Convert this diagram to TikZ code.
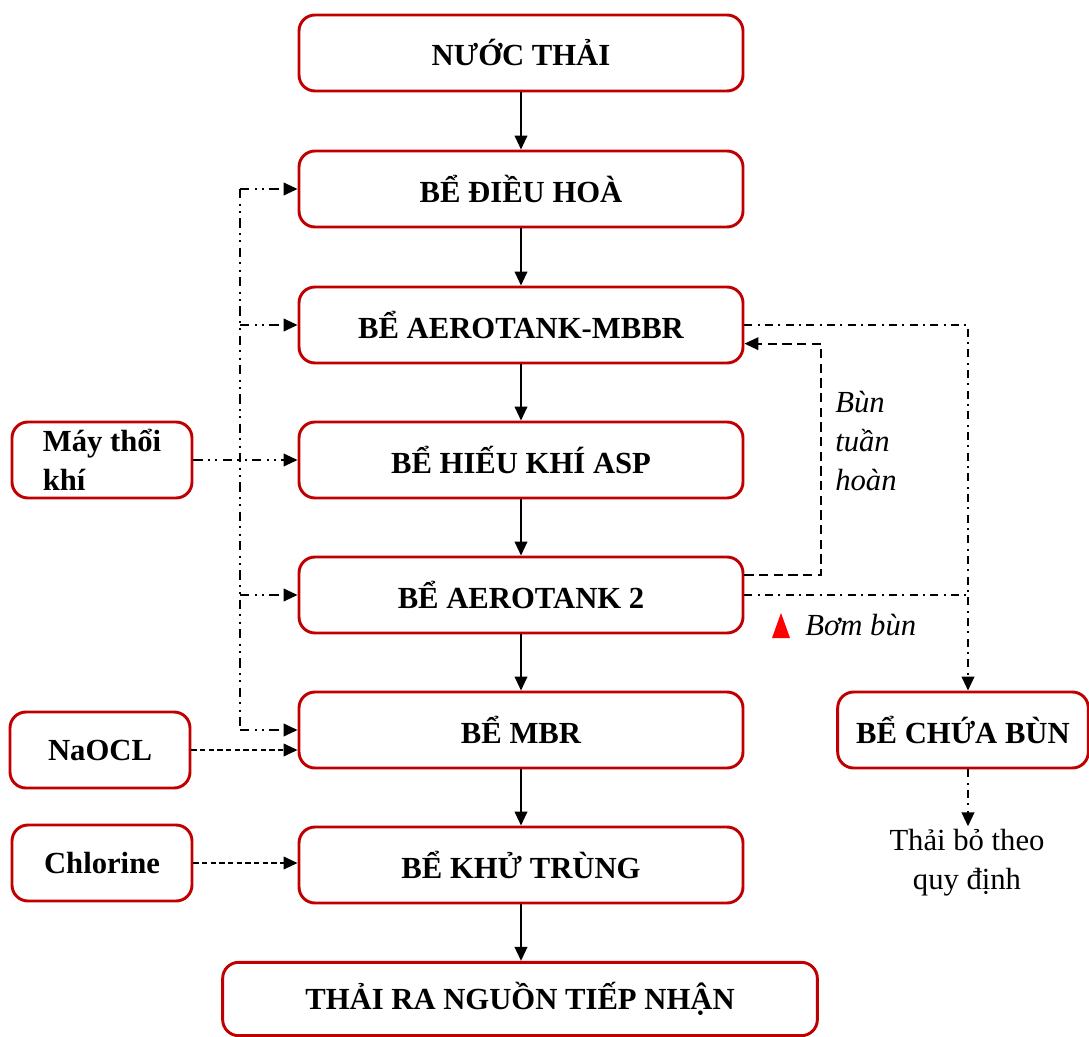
\documentclass[tikz,border=0pt]{standalone}
\usepackage{fontspec}
\setmainfont{Liberation Serif}
\usetikzlibrary{arrows.meta}
\definecolor{boxred}{RGB}{192,0,0}
\begin{document}
\begin{tikzpicture}[x=0.75pt,y=-0.75pt,
  box/.style={draw=boxred, line width=2.2pt, rounded corners=12pt, fill=white,
    font=\fontsize{23}{29}\selectfont\bfseries, align=center, inner sep=0pt},
  mainbox/.style={box, minimum width=333pt, minimum height=57pt},
  sidebox/.style={box, minimum width=135pt, minimum height=57pt},
  tip/.style={-{Triangle[length=10.5pt,width=9.5pt]}},
  flow/.style={tip, line width=1.4pt},
  dashdotdot/.style={line width=1.4pt, dash pattern=on 7pt off 4pt on 1.5pt off 4pt on 1.5pt off 4pt},
  dashdotted/.style={line width=1.4pt, dash pattern=on 6pt off 4pt on 1.5pt off 4pt},
  dashedline/.style={line width=1.3pt, dash pattern=on 7pt off 4pt},
  finedash/.style={line width=1.3pt, dash pattern=on 4pt off 2.5pt},
  note/.style={font=\fontsize{23}{29}\selectfont\itshape, inner sep=0pt},
  plain/.style={font=\fontsize{23}{29}\selectfont, inner sep=0pt, align=center}
]
\useasboundingbox (0,0) rectangle (1089,1037);

% main treatment line
\node[mainbox] (nuoc)   at (521,53)  {NƯỚC THẢI};
\node[mainbox] (dieuhoa) at (521,189) {BỂ ĐIỀU HOÀ};
\node[mainbox] (mbbr)   at (521,325) {BỂ AEROTANK-MBBR};
\node[mainbox] (asp)    at (521,460) {BỂ HIẾU KHÍ ASP};
\node[mainbox] (aero2)  at (521,595) {BỂ AEROTANK 2};
\node[mainbox] (mbr)    at (521,730) {BỂ MBR};
\node[mainbox] (khu)    at (521,865) {BỂ KHỬ TRÙNG};
\node[box, minimum width=446pt, minimum height=55pt] (xa) at (520,999) {THẢI RA NGUỒN TIẾP NHẬN};

% side inputs
\node[sidebox, align=left] (may) at (102,460) {Máy thổi\\khí};
\node[sidebox] (naocl) at (100,750) {NaOCL};
\node[sidebox] (chlor) at (102,863) {Chlorine};
\node[box, minimum width=188pt, minimum height=57pt] (chua) at (963,730) {BỂ CHỨA BÙN};

\foreach \a/\b in {nuoc/dieuhoa, dieuhoa/mbbr, mbbr/asp, asp/aero2, aero2/mbr, mbr/khu}
  \draw[flow] (\a) -- (\b);
\draw[flow] (khu.south) -- (khu.south |- xa.north);

% air distribution bus
\coordinate (busT) at (240,189);
\coordinate (busB) at (240,730);
\draw[dashdotdot] (busT) -- (busB);
\draw[dashdotdot, tip] (busT) -- (dieuhoa.west);
\draw[dashdotdot, tip] (busT |- mbbr.west) -- (mbbr.west);
\draw[dashdotdot, tip] (may.east) -- (asp.west);
\draw[dashdotdot, tip] (busT |- aero2.west) -- (aero2.west);
\draw[dashdotdot, tip] (busB) -- (mbr.west);

% chemical dosing
\draw[finedash, tip] (naocl.east) -- (naocl.east -| mbr.west);
\draw[finedash, tip] (chlor.east) -- (chlor.east -| khu.west);

% sludge lines
\coordinate (rc) at (968,325);
\draw[dashdotted, tip] (mbbr.east) -- (rc) -- (rc |- chua.north);
\draw[dashdotted] (aero2.east) -- (rc |- aero2.east);

\coordinate (rx) at (821,0);
\coordinate (rfrom) at ([yshift=15pt]aero2.east);
\coordinate (rto) at ([yshift=-14pt]mbbr.east);
\draw[dashedline, tip] (rfrom) -- (rfrom -| rx) -- (rto -| rx) -- (rto);

\node[note, align=left, anchor=west] (buntuan) at (835,441) {Bùn\\tuần\\hoàn};

\fill[red] (772,638) -- (781,613) -- (790,638) -- cycle;
\node[note, anchor=west] (bom) at (805,625) {Bơm bùn};

\node[plain, anchor=north] (thaibo) at (967,829) {Thải bỏ theo\\quy định};
\draw[dashdotted, tip] (rc |- chua.south) -- ([yshift=2pt]rc |- thaibo.north);
\end{tikzpicture}
\end{document}
